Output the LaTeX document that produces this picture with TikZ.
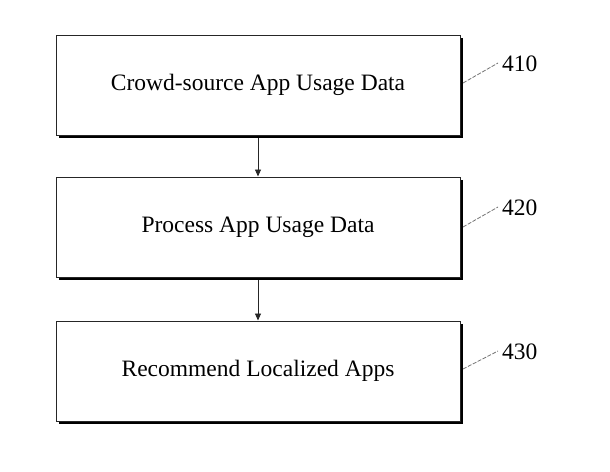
\documentclass[tikz,border=0pt]{standalone}
\usepackage{fontspec}
\setmainfont{Liberation Serif}
\usetikzlibrary{arrows.meta,shadows}
\begin{document}
\begin{tikzpicture}[x=1pt,y=-1pt,
  stepbox/.style={draw=black!85,line width=1pt,fill=white,minimum width=404pt,minimum height=100pt,
    inner sep=0pt,font=\fontsize{23.5}{28}\selectfont,
    drop shadow={shadow xshift=2.5pt,shadow yshift=-2.5pt,fill=black,opacity=1}},
  flow/.style={draw=black!85,line width=0.9pt,-{Triangle[length=7pt,width=6pt]}},
  leader/.style={draw=black!55,line width=0.8pt,dash pattern=on 4pt off 1.5pt},
  reflabel/.style={font=\fontsize{23.5}{28}\selectfont,anchor=west,inner sep=0pt}]
\useasboundingbox (0,0) rectangle (610,471);
\node[stepbox] (a) at (258,85) {Crowd-source App Usage Data};
\node[stepbox] (b) at (258,227) {Process App Usage Data};
\node[stepbox] (c) at (258,371) {Recommend Localized Apps};
\draw[flow] (a.south) ++(0,2.5) coordinate (as) -- (b.north);
\draw[flow] (b.south) ++(0,2.5) coordinate (bs) -- (c.north);
\node[reflabel] (la) at (502,64) {410};
\node[reflabel] (lb) at (502,208) {420};
\node[reflabel] (lc) at (502,352) {430};
\coordinate (ea) at (463,83);
\coordinate (eb) at (463,227);
\coordinate (ec) at (463,369);
\draw[leader] (ea) -- ([xshift=-4pt,yshift=1pt]la.west);
\draw[leader] (eb) -- ([xshift=-4pt,yshift=1pt]lb.west);
\draw[leader] (ec) -- ([xshift=-4pt,yshift=1pt]lc.west);
\end{tikzpicture}
\end{document}
